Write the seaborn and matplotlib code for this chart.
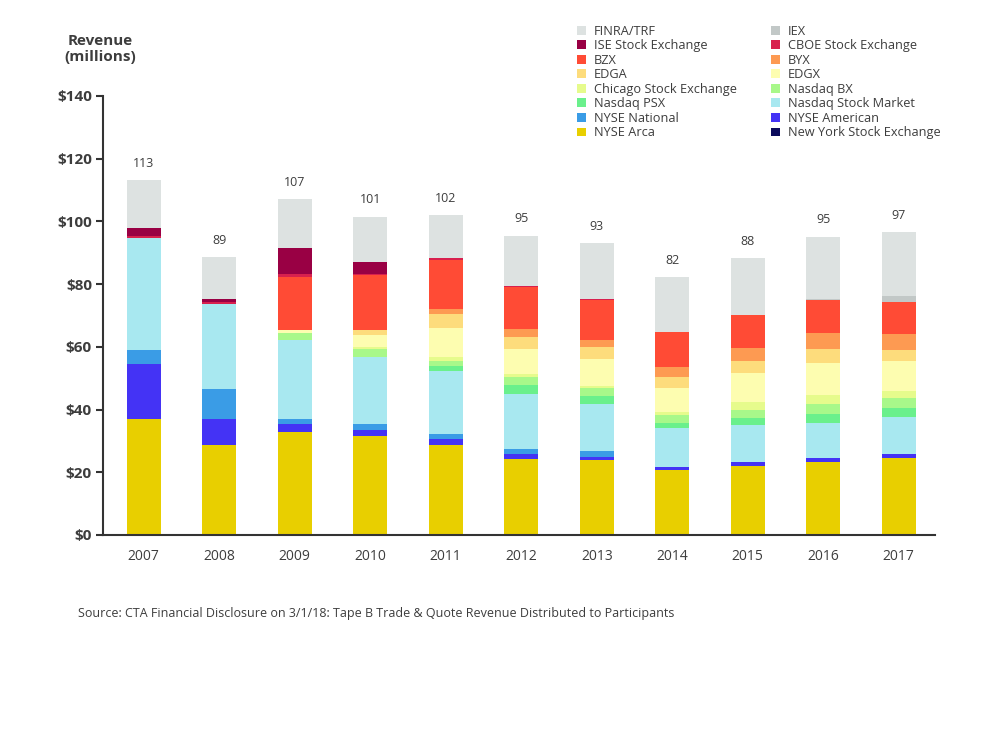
import numpy as np
import pandas as pd
import matplotlib
matplotlib.use("Agg")
import matplotlib.pyplot as plt
from matplotlib.patches import Patch
import seaborn as sns

# -----------------------------
# Data (millions USD)
# -----------------------------
years = ["2007", "2008", "2009", "2010", "2011", "2012", "2013", "2014", "2015", "2016", "2017"]
totals = [113, 89, 107, 101, 102, 95, 93, 82, 88, 95, 97]

nyse          = [0, 0, 0, 0, 0, 0, 0, 0, 0, 0, 0]
nyse_arca     = [37.0, 28.7, 32.9, 31.6, 28.8, 24.1, 23.8, 20.7, 22.1, 23.4, 24.5]
nyse_american = [17.4, 8.3, 2.5, 1.9, 1.9, 1.6, 1.2, 1.1, 1.1, 1.1, 1.3]
nyse_national = [4.5, 9.6, 1.7, 1.8, 1.5, 1.6, 1.8, 0, 0, 0, 0]
nasdaq_sm     = [35.9, 27.1, 25.1, 21.4, 20.0, 17.7, 15.1, 12.2, 11.8, 11.3, 11.7]
nasdaq_psx    = [0, 0, 0, 0, 1.7, 2.8, 2.4, 1.6, 2.2, 2.8, 3.0]
nasdaq_bx     = [0, 0, 2.1, 2.5, 1.7, 2.5, 2.5, 2.7, 2.7, 3.2, 3.3]
chicago       = [0, 0, 0, 0.8, 1.3, 1.0, 0.8, 0.8, 2.4, 2.8, 2.1]
edgx          = [0, 0, 1.1, 3.8, 9.0, 8.0, 8.5, 7.9, 9.3, 10.3, 9.6]
edga          = [0, 0, 0, 1.6, 4.5, 3.7, 3.7, 3.5, 3.9, 4.4, 3.5]
byx           = [0, 0, 0, 0, 1.7, 2.7, 2.4, 3.0, 4.2, 5.0, 5.0]
bzx           = [0, 0, 17.0, 17.6, 15.6, 13.3, 12.8, 11.1, 10.5, 10.7, 10.3]
cboe          = [0.6, 0.6, 0.8, 0.2, 0.5, 0.5, 0.4, 0, 0, 0, 0]
ise           = [2.4, 1.1, 8.2, 3.7, 0, 0, 0, 0, 0, 0, 0]
iex           = [0, 0, 0, 0, 0, 0, 0, 0, 0, 0.3, 1.9]
finra         = [15.4, 13.1, 15.6, 14.6, 13.8, 15.9, 17.6, 17.6, 18.0, 19.8, 20.3]

# stacking order, bottom -> top
series_names = ["New York Stock Exchange", "NYSE Arca", "NYSE American", "NYSE National",
                "Nasdaq Stock Market", "Nasdaq PSX", "Nasdaq BX", "Chicago Stock Exchange",
                "EDGX", "EDGA", "BYX", "BZX", "CBOE Stock Exchange", "ISE Stock Exchange",
                "IEX", "FINRA/TRF"]
series_values = [nyse, nyse_arca, nyse_american, nyse_national, nasdaq_sm, nasdaq_psx,
                 nasdaq_bx, chicago, edgx, edga, byx, bzx, cboe, ise, iex, finra]
series_colors = ["#0b0b5c", "#e8cf00", "#4433f5", "#3a9ce6", "#a8e8f0", "#6af08c",
                 "#a8f88a", "#e6fb8c", "#fdfdb0", "#fddc7c", "#fd9a52", "#ff4b35",
                 "#d8204e", "#990044", "#c2c8c7", "#dde2e1"]

df = pd.DataFrame({name: vals for name, vals in zip(series_names, series_values)}, index=years)
cum = df.cumsum(axis=1)

# -----------------------------
# Plot
# -----------------------------
sns.set_style("white")
plt.rcParams["font.family"] = ["Open Sans", "DejaVu Sans"]
text_col = "#3d3d3d"

fig = plt.figure(figsize=(10, 7.5), dpi=100)
ax = fig.add_axes([0.103, 0.2867, 0.832, 0.5853])

# draw cumulative heights from the top layer down so lower layers cover upper ones
for name, col in zip(series_names[::-1], series_colors[::-1]):
    sns.barplot(x=years, y=cum[name].values, color=col, saturation=1, width=0.45,
                ax=ax, linewidth=0)

# total labels above bars
for i, (top, lab) in enumerate(zip(cum.iloc[:, -1].values, totals)):
    ax.text(i, top + 5.4, str(lab), ha="center", va="center", fontsize=9, color=text_col)

ax.set_ylim(0, 140)
ax.set_xlim(-0.54, 10.48)
ax.set_yticks(np.arange(0, 141, 20))
ax.set_yticklabels([f"${v}" for v in range(0, 141, 20)], fontsize=11, fontweight="bold", color=text_col)
ax.tick_params(axis="y", length=5, width=1.5, color="#333333", pad=3, left=True)
ax.tick_params(axis="x", length=0, pad=10, labelsize=10, labelcolor=text_col)
ax.set_xlabel("")
ax.set_ylabel("")
for s in ["top", "right"]:
    ax.spines[s].set_visible(False)
for s in ["left", "bottom"]:
    ax.spines[s].set_color("#333333")
    ax.spines[s].set_linewidth(1.5)

fig.text(0.100, 0.935, "Revenue\n(millions)", ha="center", va="center", fontsize=11,
         fontweight="bold", color=text_col, linespacing=1.2)

# legend laid out row-wise (top of stack first), two columns
rev_names = series_names[::-1]
rev_colors = series_colors[::-1]
handles = [Patch(facecolor=c, edgecolor="none", label=n) for n, c in zip(rev_names, rev_colors)]
order = list(range(0, 16, 2)) + list(range(1, 16, 2))
fig.legend([handles[i] for i in order], [rev_names[i] for i in order], ncol=2,
           loc="upper left", bbox_to_anchor=(0.577, 0.967), frameon=False,
           fontsize=9.2, handlelength=0.7, handleheight=0.7, handletextpad=0.6,
           labelspacing=0.12, columnspacing=2.7, borderpad=0, borderaxespad=0,
           labelcolor=text_col)

fig.text(0.078, 0.182, "Source: CTA Financial Disclosure on 3/1/18: Tape B Trade & Quote Revenue Distributed to Participants",
         ha="left", va="center", fontsize=9, color=text_col)

fig.savefig("out.png", dpi=100)
